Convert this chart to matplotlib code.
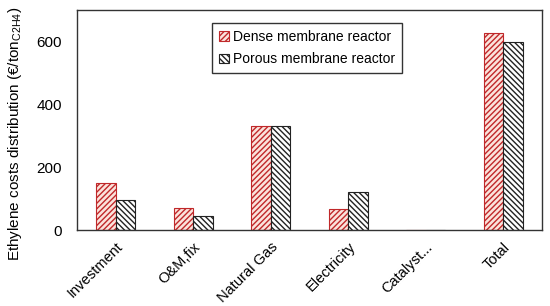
import matplotlib
matplotlib.use("Agg")
from matplotlib import pyplot as plt
import numpy as np

plt.rcParams['font.family'] = ['Liberation Sans', 'DejaVu Sans']
plt.rcParams['hatch.linewidth'] = 1.0

categories = ['Investment', 'O&M,fix', 'Natural Gas', 'Electricity', 'Catalyst...', 'Total']
dense = [150, 70, 330, 68, 1, 627]
porous = [94, 45, 330, 121, 1, 597]

fig = plt.figure(figsize=(5.5, 3.06), dpi=100)
ax = fig.add_axes([77/550, 1 - 230/306, 465/550, 220/306])

x = np.arange(len(categories))
w = 0.25
ax.bar(x - w/2, dense, w, facecolor='#fbe3dc', edgecolor='#c0282a', hatch='//////',
       lw=0.8, label='Dense membrane reactor')
ax.bar(x + w/2, porous, w, facecolor='white', edgecolor='#222222', hatch='\\\\\\\\\\\\',
       lw=0.8, label='Porous membrane reactor')

ax.set_xlim(-0.5, 5.5)
ax.set_ylim(0, 700)
ax.set_yticks([0, 200, 400, 600])
ax.set_xticks(x)
ax.set_xticklabels(categories, rotation=45, ha='right', rotation_mode='anchor', fontsize=10.5)
ax.tick_params(axis='both', length=0)
ax.tick_params(axis='y', pad=11, labelsize=11)
ax.tick_params(axis='x', pad=7)
for s in ax.spines.values():
    s.set_color('#333333')
    s.set_linewidth(1.0)

fig.text(15/550, 1 - 134/306, 'Ethylene costs distribution (€/ton$_{\\mathregular{C2H4}}$)',
         rotation=90, ha='center', va='center', fontsize=11)

leg = ax.legend(loc='upper left', bbox_to_anchor=((212-77)/465, (230-23)/220), borderaxespad=0,
                fontsize=10, frameon=True, fancybox=False, edgecolor='black',
                handlelength=0.7, handleheight=0.7, handletextpad=0.3, borderpad=0.5,
                labelspacing=0.6)
leg.get_frame().set_linewidth(1.0)

fig.savefig('out.png', dpi=100)
